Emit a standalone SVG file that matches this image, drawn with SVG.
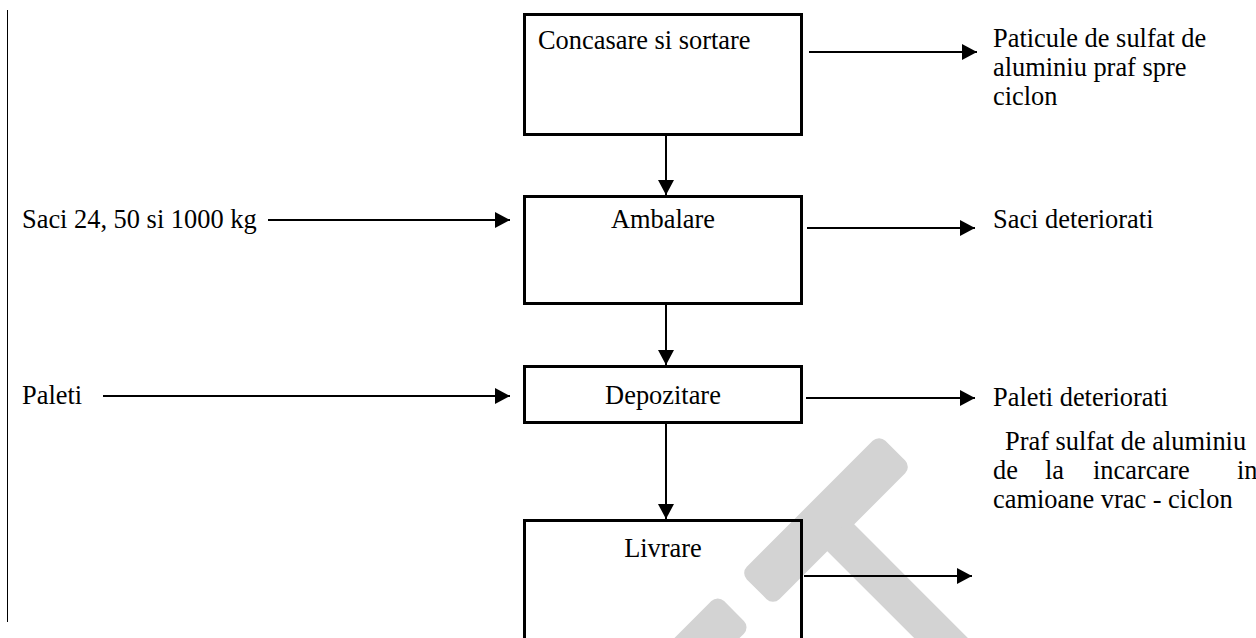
<svg xmlns="http://www.w3.org/2000/svg" width="1256" height="638" viewBox="0 0 1256 638">
<style>
text{font-family:"Liberation Serif","Times New Roman",serif;font-size:26.4px;fill:#000}
.box{fill:none;stroke:#000;stroke-width:3}
.c{fill:none;stroke:#000;stroke-width:2}
.wm{fill:#d3d3d3}
.mid{text-anchor:middle}
</style>
<defs>
<marker id="ah" markerUnits="userSpaceOnUse" markerWidth="16" markerHeight="16" refX="15" refY="8" orient="auto">
<path d="M0,0 L15,8 L0,16 z" fill="#000"/>
</marker>
</defs>
<rect width="1256" height="638" fill="#fff"/>
<g id="watermark">
<rect class="wm" x="-98" y="-23" width="196" height="46" rx="9" transform="translate(826,520) rotate(-45)"/>
<rect class="wm" x="0" y="-19" width="200" height="38" transform="translate(836,533) rotate(45)"/>
<rect class="wm" x="0" y="-23" width="80" height="46" rx="9" transform="translate(734,611) rotate(135)"/>
</g>
<line x1="7.5" y1="10" x2="7.5" y2="622" stroke="#000" stroke-width="1"/>
<g id="connectors">
<line class="c" x1="666" y1="136" x2="666" y2="195" marker-end="url(#ah)"/>
<line class="c" x1="666" y1="305" x2="666" y2="365" marker-end="url(#ah)"/>
<line class="c" x1="666" y1="424" x2="666" y2="519" marker-end="url(#ah)"/>
<line class="c" x1="268" y1="220" x2="510" y2="220" marker-end="url(#ah)"/>
<line class="c" x1="103" y1="396" x2="510" y2="396" marker-end="url(#ah)"/>
<line class="c" x1="809" y1="52" x2="977" y2="52" marker-end="url(#ah)"/>
<line class="c" x1="807" y1="228" x2="975" y2="228" marker-end="url(#ah)"/>
<line class="c" x1="806" y1="398" x2="975" y2="398" marker-end="url(#ah)"/>
<line class="c" x1="804" y1="576" x2="972" y2="576" marker-end="url(#ah)"/>
</g>
<g id="n-concasare">
<rect class="box" x="524.5" y="14.5" width="277" height="120"/>
<text x="538" y="49">Concasare si sortare</text>
</g>
<g id="n-ambalare">
<rect class="box" x="524.5" y="196.5" width="277" height="107"/>
<text class="mid" x="663" y="228">Ambalare</text>
</g>
<g id="n-depozitare">
<rect class="box" x="524.5" y="366.5" width="277" height="56"/>
<text class="mid" x="663" y="404">Depozitare</text>
</g>
<g id="n-livrare">
<rect class="box" x="524.5" y="520.5" width="277" height="200"/>
<text class="mid" x="663" y="557">Livrare</text>
</g>
<g id="labels">
<text x="22" y="228">Saci 24, 50 si 1000 kg</text>
<text x="22" y="404">Paleti</text>
<text x="993" y="47">Paticule de sulfat de</text>
<text x="993" y="76">aluminiu praf spre</text>
<text x="993" y="105">ciclon</text>
<text x="993" y="228">Saci deteriorati</text>
<text x="993" y="406">Paleti deteriorati</text>
<text x="1005" y="450">Praf sulfat de aluminiu</text>
<text x="993" y="479">de</text>
<text x="1045" y="479">la</text>
<text x="1093" y="479">incarcare</text>
<text x="1237" y="479">in</text>
<text x="993" y="508">camioane vrac - ciclon</text>
</g>
</svg>
